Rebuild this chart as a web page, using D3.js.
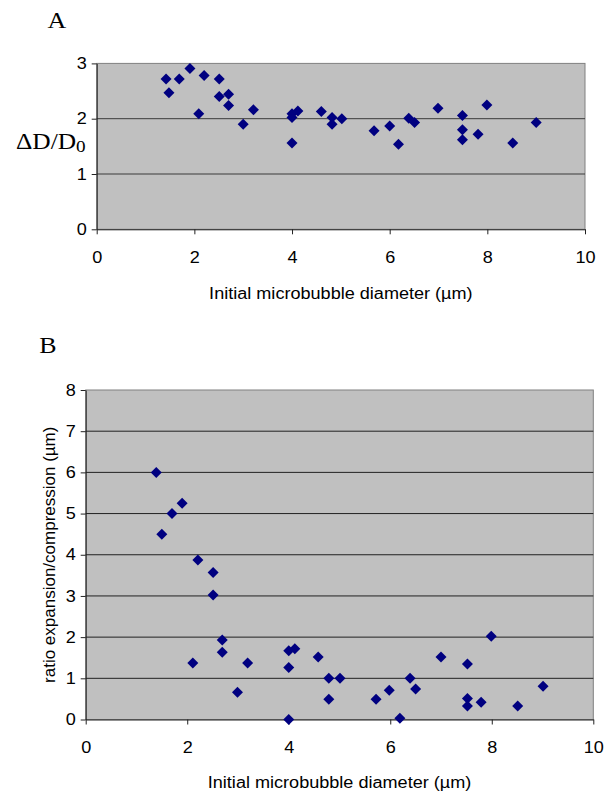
<!DOCTYPE html>
<html>
<head>
<meta charset="utf-8">
<script src="https://cdn.jsdelivr.net/npm/d3@7"></script>
<style>
  body { margin: 0; background: #fff; }
  svg { display: block; }
</style>
</head>
<body>
<svg id="chart" width="611" height="794"></svg>
<script>
// Panel A: ΔD/D0 theo đường kính ban đầu
const diamA = [1.42, 1.48, 1.69, 1.91, 2.09, 2.20, 2.51, 2.51, 2.70, 2.70, 3.00, 3.21,
  4.00, 4.00, 4.00, 4.12, 4.60, 4.82, 4.82, 5.02, 5.68, 6.00, 6.18, 6.39, 6.51, 6.99,
  7.49, 7.49, 7.49, 7.81, 7.99, 8.52, 9.00];
const deltaD = [2.72, 2.47, 2.72, 2.91, 2.09, 2.78, 2.72, 2.40, 2.44, 2.24, 1.90, 2.16,
  2.09, 2.02, 1.56, 2.14, 2.13, 2.02, 1.90, 2.00, 1.78, 1.87, 1.54, 2.01, 1.93, 2.19,
  2.06, 1.80, 1.62, 1.72, 2.25, 1.56, 1.93];

// Panel B: tỉ số giãn nở / nén
const diamB = [1.39, 1.50, 1.70, 1.90, 2.11, 2.21, 2.51, 2.51, 2.69, 2.69, 2.99, 3.19,
  4.00, 4.00, 4.00, 4.12, 4.58, 4.79, 4.79, 5.01, 5.72, 5.98, 6.19, 6.39, 6.50, 7.00,
  7.52, 7.52, 7.52, 7.79, 7.99, 8.51, 9.01];
const ratioEC = [6.00, 4.50, 5.00, 5.25, 1.37, 3.87, 3.57, 3.02, 1.93, 1.63, 0.66, 1.37,
  1.67, 1.26, 0.00, 1.72, 1.52, 1.00, 0.49, 1.00, 0.49, 0.71, 0.03, 1.00, 0.74, 1.52,
  1.35, 0.51, 0.33, 0.42, 2.02, 0.33, 0.81];

const xTicks = [0, 2, 4, 6, 8, 10];
const yTicksA = [0, 1, 2, 3];
const yTicksB = [0, 1, 2, 3, 4, 5, 6, 7, 8];
const xTitle = "Initial microbubble diameter (µm)";

const svg = d3.select("#chart");
const SX = 1.13; // chữ trong ảnh gốc bị kéo giãn ngang
const SANS = "'Liberation Sans', Arial, sans-serif";
const SERIF = "'Liberation Serif', 'Times New Roman', serif";

function stretchText(sel) {
  sel.each(function () {
    const t = d3.select(this);
    const x = +t.attr("x") || 0;
    t.attr("x", 0).attr("transform", `translate(${x},0) scale(${SX},1)`);
  });
}

function drawPanel(cfg) {
  const { left, right, top, bottom, xs, ys, yMax, yTicks } = cfg;
  const innerW = right - left, innerH = bottom - top;
  const g = svg.append("g").attr("transform", `translate(${left},${top})`);

  const x = d3.scaleLinear().domain([0, 10]).range([0, innerW]);
  const y = d3.scaleLinear().domain([0, yMax]).range([innerH, 0]);

  // nền xám + viền
  g.append("rect")
    .attr("width", innerW).attr("height", innerH)
    .attr("fill", "#c0c0c0")
    .attr("stroke", "#808080").attr("stroke-width", 1);

  // lưới ngang
  g.append("g")
    .selectAll("line")
    .data(yTicks.filter(d => d > 0 && d < yMax))
    .enter().append("line")
    .attr("x1", 0).attr("x2", innerW)
    .attr("y1", d => y(d)).attr("y2", d => y(d))
    .attr("stroke", cfg.gridColor).attr("stroke-width", 1);

  // trục
  const xAxis = g.append("g")
    .attr("transform", `translate(0,${innerH})`)
    .call(d3.axisBottom(x).tickValues(xTicks).tickFormat(d3.format("d"))
      .tickSize(5).tickPadding(17).tickSizeOuter(0));
  const yAxis = g.append("g")
    .call(d3.axisLeft(y).tickValues(yTicks).tickFormat(d3.format("d"))
      .tickSize(5).tickPadding(5).tickSizeOuter(0));

  [xAxis, yAxis].forEach(a => {
    a.select(".domain").attr("stroke", "#222");
    a.selectAll(".tick line").attr("stroke", "#222");
    a.selectAll("text")
      .style("font-family", SANS).style("font-size", "16px").attr("fill", "#000")
      .call(stretchText);
  });

  // điểm dạng kim cương
  const diamond = "M0,-5.5L5.5,0L0,5.5L-5.5,0Z";
  g.append("g")
    .selectAll("path")
    .data(xs.map((d, i) => [d, ys[i]]))
    .enter().append("path")
    .attr("d", diamond)
    .attr("transform", d => `translate(${x(d[0])},${y(d[1])})`)
    .attr("fill", "#000080");

  // tiêu đề trục x
  svg.append("text")
    .attr("transform", `translate(${left + innerW / 2},${cfg.xTitleY}) scale(${SX},1)`)
    .attr("text-anchor", "middle")
    .style("font-family", SANS).style("font-size", "16px")
    .text(xTitle);

  // nhãn panel
  svg.append("text")
    .attr("transform", `translate(${cfg.labelX},${cfg.labelY}) scale(${SX},1)`)
    .attr("text-anchor", "middle")
    .style("font-family", SERIF).style("font-size", "23px")
    .text(cfg.label);

  return { x, y };
}

// 1. Panel A
drawPanel({
  left: 96.7, right: 585, top: 63.4, bottom: 229.3,
  xs: diamA, ys: deltaD, yMax: 3, yTicks: yTicksA,
  gridColor: "#3a3a3a", xTitleY: 299, label: "A", labelX: 57, labelY: 28
});

// nhãn trục y của A: ΔD/D0
const lblA = svg.append("text")
  .attr("transform", `translate(16,148.5) scale(${SX},1)`)
  .style("font-family", SERIF).style("font-size", "22.5px");
lblA.append("tspan").text("ΔD/D");
lblA.append("tspan").attr("dy", 3.5).style("font-size", "17px").text("0");

// 2. Panel B
drawPanel({
  left: 85.7, right: 593.3, top: 390, bottom: 719.5,
  xs: diamB, ys: ratioEC, yMax: 8, yTicks: yTicksB,
  gridColor: "#202020", xTitleY: 788, label: "B", labelX: 48, labelY: 353
});

svg.append("text")
  .attr("transform", `translate(55,${(390 + 719.5) / 2}) rotate(-90)`)
  .attr("text-anchor", "middle")
  .style("font-family", SANS).style("font-size", "17px")
  .text("ratio expansion/compression (µm)");
</script>
</body>
</html>
